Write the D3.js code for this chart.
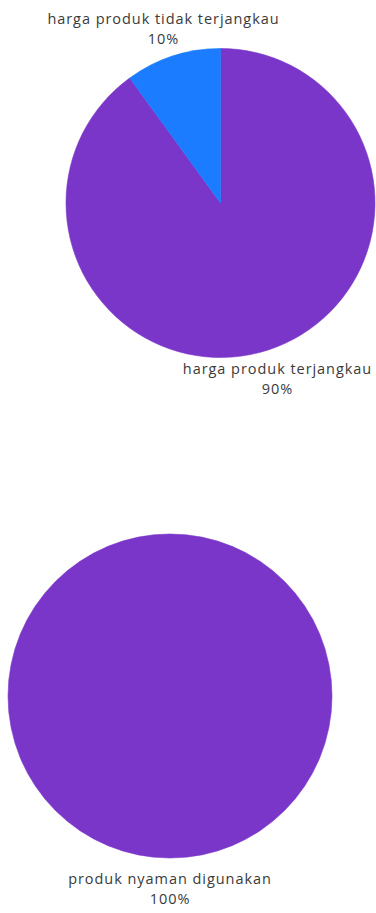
<!DOCTYPE html>
<html lang="id">
  <head>
    <meta charset="UTF-8" />
    <title>Pie charts</title>
    <style>
      body { margin: 0; background: #fff; }
      text {
        font-family: "Open Sans", sans-serif;
        font-size: 14.5px;
        letter-spacing: 0.95px;
        fill: #3a3a3a;
      }
    </style>
  </head>
  <body>
    <script src="https://cdn.jsdelivr.net/npm/d3@7/dist/d3.min.js"></script>
    <script>
      // data for the two pies
      var hargaLabels = ["harga produk terjangkau", "harga produk tidak terjangkau"];
      var hargaValues = [90, 10];
      var nyamanLabels = ["produk nyaman digunakan"];
      var nyamanValues = [100];
      var sliceColors = ["#7a36c8", "#1b7cff"];

      var w = 376, h = 913;

      var svg = d3.select("body").append("svg")
        .attr("width", w)
        .attr("height", h);

      var pie = d3.pie().sort(null).value(function(d) { return d.value; });

      function drawPie(labels, values, cx, cy, r) {
        var data = labels.map(function(l, i) { return { label: l, value: values[i] }; });
        var total = d3.sum(values);
        var arc = d3.arc().innerRadius(0).outerRadius(r);
        var labelArc = d3.arc().innerRadius(r + 30).outerRadius(r + 30);

        var g = svg.append("g").attr("transform", "translate(" + cx + "," + cy + ")");

        g.selectAll("path")
          .data(pie(data))
          .enter()
          .append("path")
          .attr("d", arc)
          .attr("fill", function(d, i) { return sliceColors[i]; })
          .attr("stroke", function(d, i) { return sliceColors[i]; })
          .attr("stroke-width", 0.6);

        var lbl = g.selectAll("text.lbl")
          .data(pie(data))
          .enter()
          .append("text")
          .attr("class", "lbl")
          .attr("text-anchor", "middle")
          .attr("transform", function(d) { return "translate(" + labelArc.centroid(d) + ")"; });

        lbl.append("tspan")
          .attr("x", 0)
          .attr("y", -4)
          .text(function(d) { return d.data.label; });

        lbl.append("tspan")
          .attr("x", 0)
          .attr("y", 16)
          .text(function(d) { return Math.round(d.data.value / total * 100) + "%"; });
      }

      drawPie(hargaLabels, hargaValues, 220.5, 203, 154.5);
      drawPie(nyamanLabels, nyamanValues, 170, 696, 162);
    </script>
  </body>
</html>
